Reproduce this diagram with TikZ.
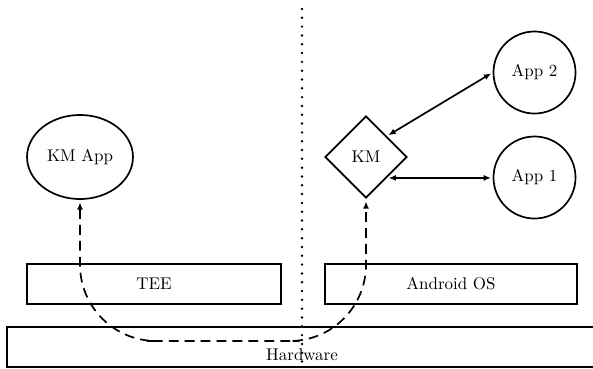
\documentclass[tikz,border=0pt]{standalone}
\usetikzlibrary{shapes.geometric,arrows.meta}
\begin{document}
\begin{tikzpicture}[x=0.59pt,y=-0.59pt,>={Latex[length=4.3pt,width=3.6pt]},
  every node/.style={line width=1pt},
  box/.style={draw,rectangle,minimum height=23.6pt,inner sep=0pt},
  appc/.style={draw,circle,minimum size=48.4pt,inner sep=0pt},
  conn/.style={line width=1pt,<->,shorten <=1pt,shorten >=1pt},
  dashconn/.style={line width=1pt,<->,dash pattern=on 5.8pt off 3.6pt,rounded corners=45pt,shorten >=1.5pt,shorten <=1.5pt},
  sep/.style={line width=1.6pt,dash pattern=on 0pt off 5.2pt,line cap=round}]
\useasboundingbox (0,0) rectangle (593,368);
\node[draw,ellipse,minimum width=62.5pt,minimum height=49.6pt,inner sep=0pt] (kmapp) at (80,157) {KM App};
\node[draw,diamond,minimum width=48.4pt,minimum height=48.4pt,inner sep=0pt] (km) at (366,157) {KM};
\node[appc] (app2) at (534.5,72.5) {App 2};
\node[appc] (app1) at (534.5,177.5) {App 1};
\node[box,minimum width=149.9pt] (tee) at (154,284) {TEE};
\node[box,minimum width=148.7pt] (android) at (451,284) {Android OS};
\node[box,minimum width=348pt] (hw) at (302,347) {};
\node (hwlabel) at (302,355) {Hardware};
\coordinate (dtop) at (302,9);
\coordinate (dbot) at (302,370);
\coordinate (dip) at (223,341);
\draw[sep] (dtop) -- (dbot);
\draw[conn] (km.north east) -- (app2.west);
\draw[conn] (km.south east) -- (km.south east -| app1.west);
\draw[dashconn] (kmapp.south) |- (dip) -| (km.south);
\end{tikzpicture}
\end{document}
